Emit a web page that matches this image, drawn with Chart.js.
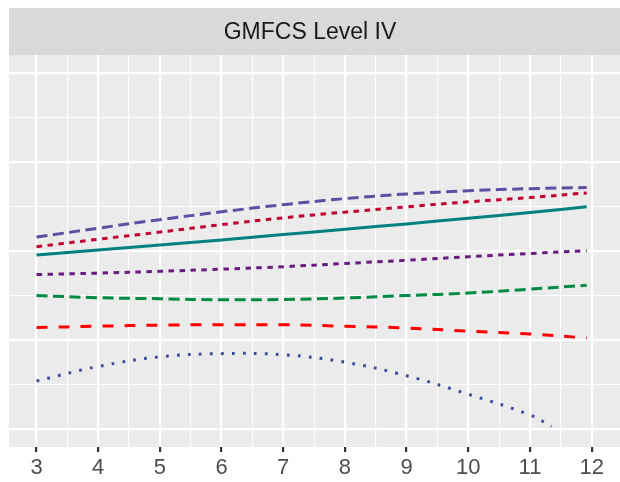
<!DOCTYPE html>
<html>
<head>
<meta charset="utf-8">
<script src="https://cdn.jsdelivr.net/npm/chart.js@4/dist/chart.umd.min.js"></script>
<style>
  html, body { margin: 0; padding: 0; background: #ffffff; }
  canvas { display: block; }
</style>
</head>
<body>
<canvas id="chart" width="620" height="482"></canvas>
<script>
const stripTitle = 'GMFCS Level IV';

const ages = [3, 4, 5, 6, 7, 8, 9, 10, 11, 11.92];
const agesDotted = [3, 4, 5, 6, 7, 8, 9, 10, 11, 11.35];

// y values (axis has no labels, scale read as 0..100 between outer major grid lines)
const slateDashed   = [53.9, 56.4, 58.8, 61.0, 63.0, 64.7, 66.0, 66.9, 67.5, 67.8];
const crimsonDashed = [51.2, 53.3, 55.3, 57.4, 59.3, 60.9, 62.4, 63.8, 65.0, 66.3];
const tealSolid     = [48.9, 50.3, 51.7, 53.1, 54.6, 56.1, 57.6, 59.2, 60.8, 62.4];
const purpleDashed  = [43.4, 43.8, 44.3, 44.9, 45.6, 46.5, 47.4, 48.4, 49.3, 50.1];
const greenDashed   = [37.5, 36.9, 36.6, 36.3, 36.4, 36.8, 37.5, 38.2, 39.3, 40.4];
const redDashed     = [28.5, 28.9, 29.2, 29.3, 29.3, 28.9, 28.4, 27.5, 26.7, 25.6];
const navyDotted    = [13.5, 17.6, 20.3, 21.2, 20.9, 18.8, 15.0, 9.8, 4.0, 0.8];

const u = 2.75; // dash unit
const lines = [
    { name: 'a', xs: ages, ys: slateDashed, color: '#5E4FA2', dash: [4 * u, 2 * u] },
    { name: 'b', xs: ages, ys: crimsonDashed, color: '#C2002F', dash: [2 * u, 2 * u] },
    { name: 'c', xs: ages, ys: tealSolid, color: '#008080', dash: [] },
    { name: 'd', xs: ages, ys: purpleDashed, color: '#6A1B7E', dash: [2 * u, 2 * u] },
    { name: 'e', xs: ages, ys: greenDashed, color: '#008A43', dash: [4 * u, 2 * u] },
    { name: 'f', xs: ages, ys: redDashed, color: '#FF0000', dash: [4 * u, 4 * u] },
    { name: 'g', xs: agesDotted, ys: navyDotted, color: '#3B4A9A', dash: [u, 3 * u] }
];

const panelBackground = {
    id: 'panelBackground',
    beforeDraw(chart) {
        const { ctx, chartArea: a } = chart;
        ctx.save();
        ctx.fillStyle = '#EBEBEB';
        ctx.fillRect(a.left, a.top, a.right - a.left, a.bottom - a.top);
        ctx.fillStyle = '#D9D9D9';
        ctx.fillRect(a.left, 8, a.right - a.left, a.top - 8);
        ctx.fillStyle = '#1A1A1A';
        ctx.font = '23px "Liberation Sans", Arial, sans-serif';
        ctx.textAlign = 'center';
        ctx.textBaseline = 'middle';
        ctx.fillText(stripTitle, 310, (8 + a.top) / 2 + 1);
        ctx.restore();
    }
};

const isWhole = (v, step) => Math.abs(v / step - Math.round(v / step)) < 1e-6;

new Chart(document.getElementById('chart'), {
    type: 'line',
    data: {
        datasets: lines.map(item => ({
            label: item.name,
            data: item.xs.map((x, i) => ({ x: x, y: item.ys[i] })),
            borderColor: item.color,
            borderWidth: 3,
            borderDash: item.dash,
            borderCapStyle: 'butt',
            pointRadius: 0,
            tension: 0.4,
            fill: false
        }))
    },
    options: {
        responsive: false,
        animation: false,
        devicePixelRatio: 1,
        layout: { padding: { left: 9, top: 55, right: 0, bottom: 0 } },
        plugins: {
            legend: { display: false },
            tooltip: { enabled: false }
        },
        scales: {
            x: {
                type: 'linear',
                min: 2.554,
                max: 12.46,
                border: { display: false },
                grid: {
                    color: '#FFFFFF',
                    lineWidth: ctx => ctx.tick && isWhole(ctx.tick.value, 1) ? 2.2 : 1.1,
                    drawTicks: true,
                    tickLength: 5,
                    tickWidth: 2.2,
                    tickColor: ctx => ctx.tick && isWhole(ctx.tick.value, 1) ? '#333333' : 'rgba(0,0,0,0)'
                },
                ticks: {
                    stepSize: 0.5,
                    includeBounds: false,
                    autoSkip: false,
                    maxRotation: 0,
                    padding: 3,
                    color: '#4D4D4D',
                    font: { family: '"Liberation Sans", Arial, sans-serif', size: 22 },
                    callback: v => isWhole(v, 1) ? String(v) : ''
                },
                afterFit: s => { s.height = 35; }
            },
            y: {
                type: 'linear',
                min: -5,
                max: 105,
                border: { display: false },
                grid: {
                    color: '#FFFFFF',
                    lineWidth: ctx => ctx.tick && isWhole(ctx.tick.value, 25) ? 2.2 : 1.1,
                    drawTicks: false
                },
                ticks: {
                    display: false,
                    stepSize: 12.5,
                    includeBounds: false
                },
                afterFit: s => { s.width = 0; }
            }
        }
    },
    plugins: [panelBackground]
});
</script>
</body>
</html>
